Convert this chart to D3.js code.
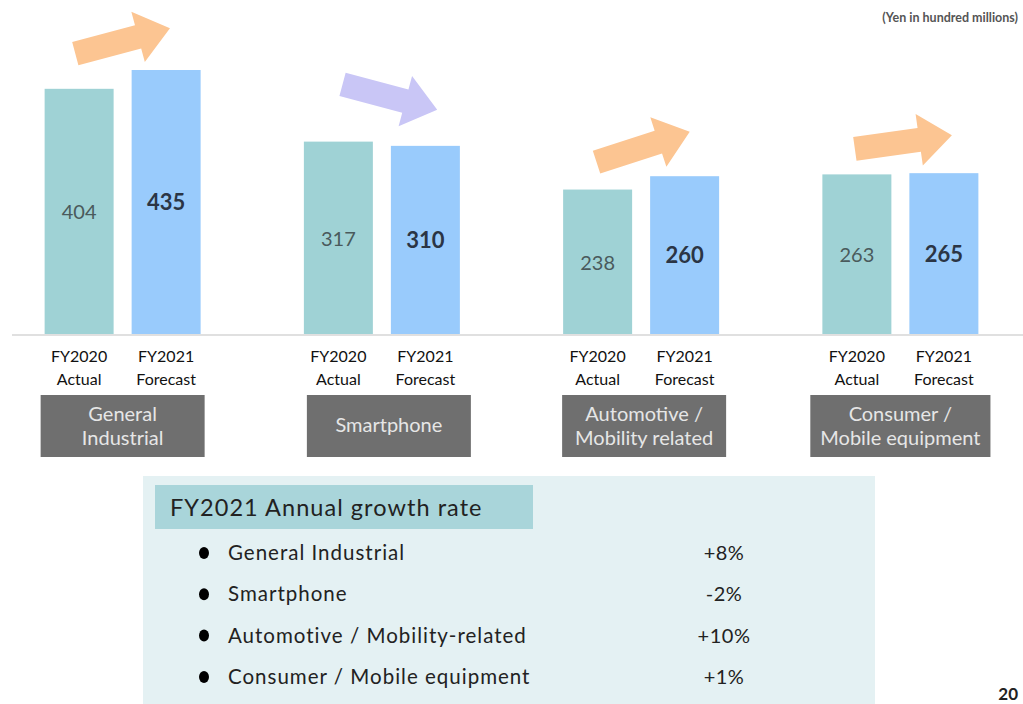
<!DOCTYPE html>
<html>
<head>
<meta charset="utf-8">
<script src="https://cdn.jsdelivr.net/npm/d3@7"></script>
<style>
  html, body { margin: 0; padding: 0; background: #fff; }
  svg { display: block; font-family: Lato, "Open Sans", sans-serif; }
</style>
</head>
<body>
<svg id="chart" width="1023" height="704"></svg>
<script>
// ---- data ----
const categories = ["General\nIndustrial", "Smartphone", "Automotive /\nMobility related", "Consumer /\nMobile equipment"];
const seriesKeys = ["FY2020 Actual", "FY2021 Forecast"];
const tickLabels = [["FY2020", "Actual"], ["FY2021", "Forecast"]];
const actual2020 = [404, 317, 238, 263];
const forecast2021 = [435, 310, 260, 265];
const growthLabels = ["General Industrial", "Smartphone", "Automotive / Mobility-related", "Consumer / Mobile equipment"];
const growthRates = ["+8%", "-2%", "+10%", "+1%"];
const unitNote = "(Yen in hundred millions)";
const growthTitle = "FY2021 Annual growth rate";
const pageNumber = "20";

const svg = d3.select("#chart");

const colors = { "FY2020 Actual": "#9fd2d5", "FY2021 Forecast": "#99cbfc" };

// scales
const x0 = d3.scaleBand().domain(d3.range(categories.length)).range([-7, 1030]).padding(0);
const x1 = d3.scaleBand().domain(seriesKeys).range([0, 156]).paddingInner(0.207).paddingOuter(0);
const y = d3.scaleLinear().domain([0, 435]).range([334, 70]);

const rows = categories.map((c, i) => ({ i, c, vals: [actual2020[i], forecast2021[i]] }));
const groupLeft = i => x0(i) + x0.bandwidth() / 2 - 78;

// growth box background
svg.append("rect").attr("x", 143).attr("y", 476).attr("width", 732).attr("height", 240).attr("fill", "#e4f1f3");
svg.append("rect").attr("x", 155).attr("y", 485).attr("width", 378).attr("height", 44).attr("fill", "#a9d5da");
svg.append("text").attr("x", 170).attr("y", 516)
  .attr("font-size", 23.5).attr("letter-spacing", 1.05).attr("fill", "#222").text(growthTitle);

const gr = svg.append("g");
growthLabels.forEach((lab, i) => {
  const yy = 553 + i * 41.3;
  gr.append("ellipse").attr("cx", 204).attr("cy", yy).attr("rx", 5).attr("ry", 6).attr("fill", "#000");
  gr.append("text").attr("x", 228).attr("y", yy + 7).attr("font-size", 20.5).attr("letter-spacing", 1)
    .attr("fill", "#222").text(lab);
  gr.append("text").attr("x", 724).attr("y", yy + 7).attr("font-size", 20).attr("letter-spacing", 0.5)
    .attr("text-anchor", "middle").attr("fill", "#222").text(growthRates[i]);
});

// baseline
svg.append("line").attr("x1", 12).attr("x2", 1023).attr("y1", y(0) + 1).attr("y2", y(0) + 1)
  .attr("stroke", "#e0e0e0").attr("stroke-width", 2);

// bars
const groups = svg.append("g").selectAll("g").data(rows).join("g")
  .attr("transform", d => `translate(${groupLeft(d.i)},0)`);

groups.selectAll("rect").data(d => d.vals.map((v, k) => ({ key: seriesKeys[k], v, k }))).join("rect")
  .attr("x", d => x1(d.key)).attr("width", x1.bandwidth())
  .attr("y", d => y(d.v)).attr("height", d => y(0) - y(d.v))
  .attr("fill", d => colors[d.key]);

groups.selectAll("text.val").data(d => d.vals.map((v, k) => ({ key: seriesKeys[k], v, k }))).join("text")
  .attr("class", "val")
  .attr("x", d => x1(d.key) + x1.bandwidth() / 2)
  .attr("y", d => (y(d.v) + y(0)) / 2 + 8)
  .attr("text-anchor", "middle")
  .attr("font-size", d => d.k === 0 ? 20 : 22)
  .attr("font-weight", d => d.k === 0 ? "normal" : "bold")
  .attr("fill", d => d.k === 0 ? "#4a5a5c" : "#2b3545")
  .text(d => d.v);

// tick labels
groups.each(function () {
  const g = d3.select(this);
  seriesKeys.forEach((k, j) => {
    const t = g.append("text").attr("x", x1(k) + x1.bandwidth() / 2).attr("text-anchor", "middle")
      .attr("font-size", 16).attr("fill", "#111");
    tickLabels[j].forEach((ln, m) => t.append("tspan").attr("x", x1(k) + x1.bandwidth() / 2).attr("y", 362 + m * 23).text(ln));
  });
});

// category boxes
rows.forEach(d => {
  const cx = x0(d.i) + x0.bandwidth() / 2 + (d.i === 1 ? 7 : d.i === 2 ? 3 : 0);
  const lines = d.c.split("\n");
  const g = svg.append("g");
  const rect = g.append("rect").attr("y", 395).attr("height", 62).attr("fill", "#6f6f6f");
  const t = g.append("text").attr("text-anchor", "middle").attr("font-size", 20).attr("fill", "#e6e6e6");
  const base = lines.length === 1 ? 432 : 421;
  lines.forEach((ln, m) => t.append("tspan").attr("x", cx).attr("y", base + m * 24).text(ln));
  const tw = t.node().getBBox().width;
  const bw = Math.max(164, tw + 20);
  rect.attr("x", cx - bw / 2).attr("width", bw);
});

// arrows
const arrowStyle = [
  { angle: -15, fill: "#fcc592", dx: 0, ty: 41 },
  { angle: 15, fill: "#c9c6f6", dx: 8, ty: 97 },
  { angle: -18, fill: "#fcc592", dx: 2, ty: 147 },
  { angle: -8, fill: "#fcc592", dx: 3, ty: 142 }
];
rows.forEach(d => {
  const s = arrowStyle[d.i];
  const cx = groupLeft(d.i) + 78 + s.dx;
  const L = 98, sw = 24, hw = 52, hl = 33;
  const pts = [[-L / 2, -sw / 2], [L / 2 - hl, -sw / 2], [L / 2 - hl, -hw / 2], [L / 2, 0], [L / 2 - hl, hw / 2], [L / 2 - hl, sw / 2], [-L / 2, sw / 2]];
  svg.append("polygon").attr("points", pts.map(p => p.join(",")).join(" "))
    .attr("transform", `translate(${cx},${s.ty}) rotate(${s.angle})`)
    .attr("fill", s.fill);
});

// notes
svg.append("text").attr("x", 1018).attr("y", 22).attr("text-anchor", "end").attr("font-size", 12.5)
  .attr("font-weight", "bold").attr("fill", "#555").text(unitNote);
svg.append("text").attr("x", 1018).attr("y", 700).attr("text-anchor", "end").attr("font-size", 17)
  .attr("font-weight", "bold").attr("fill", "#222").text(pageNumber);
</script>
</body>
</html>
